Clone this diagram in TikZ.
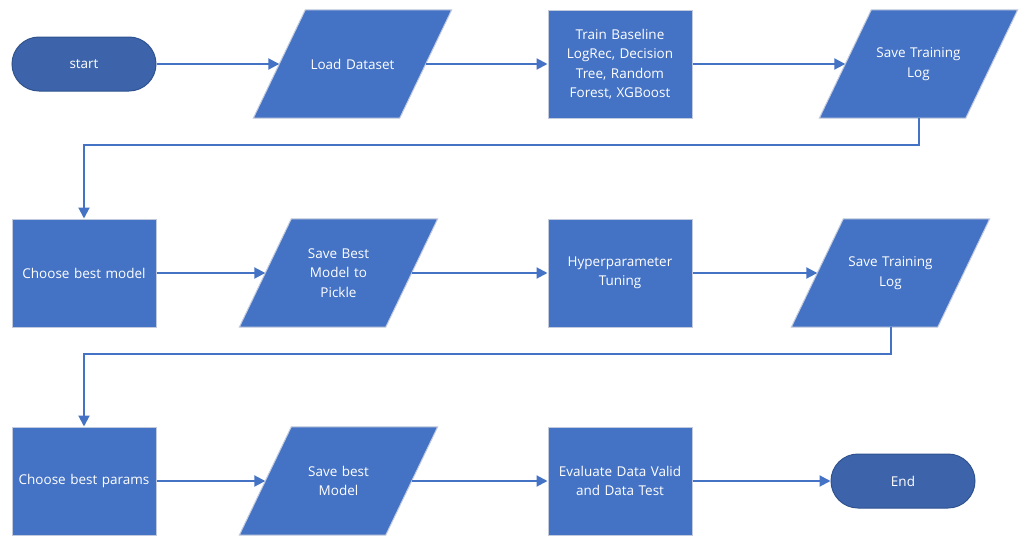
\documentclass[tikz,border=0pt]{standalone}
\usepackage{fontspec}
\setmainfont{Open Sans}
\usetikzlibrary{arrows.meta,backgrounds}
\definecolor{boxblue}{HTML}{4472C4}
\definecolor{termblue}{HTML}{3D64AB}
\definecolor{termedge}{HTML}{2F528F}
\definecolor{boxedge}{HTML}{C2CBDD}
\tikzset{
  basebox/.style={text=white, align=center,
    font=\fontsize{13.5}{19.5}\selectfont, inner sep=2pt},
  procbox/.style={basebox, rectangle, fill=boxblue, draw=boxedge, line width=1pt,
    minimum width=144pt, minimum height=108pt, text width=140pt},
  iobox/.style={basebox, rectangle, minimum width=146pt, minimum height=108pt, text width=140pt},
  ioshape/.style={fill=boxblue, draw=boxedge, line width=1pt, line join=miter},
  termbox/.style={rectangle, rounded corners=27pt, fill=termblue, draw=termedge, line width=1pt,
    text=white, minimum width=144pt, minimum height=54pt, font=\fontsize{13.5}{19.5}\selectfont},
  flow/.style={draw=boxblue, line width=2pt, -{Triangle[length=11pt,width=11pt]}}
}
\newcommand{\slantpath}[1]{%
  \begin{pgfonlayer}{background}
  \draw[ioshape] ([xshift=26pt]#1.north west) -- ([xshift=26pt]#1.north east)
     -- ([xshift=-26pt]#1.south east) -- ([xshift=-26pt]#1.south west) -- cycle;
  \end{pgfonlayer}}
\begin{document}
\begin{tikzpicture}[x=1pt,y=-1pt]
\useasboundingbox (0,0) rectangle (1028,546);
% row 1
\node[termbox] (start) at (84,64) {start};
\node[iobox] (load) at (352.5,64) {Load Dataset};
\node[procbox] (train) at (620,64) {Train Baseline\\LogRec, Decision\\Tree, Random\\Forest, XGBoost};
\node[iobox] (log1) at (918.5,64) {Save Training\\Log};
% row 2
\node[procbox] (choose) at (84,273) {Choose best model};
\node[iobox] (pickle) at (338.5,273) {Save Best\\Model to\\Pickle};
\node[procbox] (hyper) at (620,273) {Hyperparameter\\Tuning};
\node[iobox] (log2) at (890.5,273) {Save Training\\Log};
% row 3
\node[procbox] (params) at (84,481) {Choose best params};
\node[iobox] (savebest) at (338.5,481) {Save best\\Model};
\node[procbox] (eval) at (620,481) {Evaluate Data Valid\\and Data Test};
\node[termbox] (end) at (903,481) {End};
% parallelogram outlines
\slantpath{load}
\slantpath{log1}
\slantpath{pickle}
\slantpath{log2}
\slantpath{savebest}
% connectors
\draw[flow] (start) -- (load);
\draw[flow] (load) -- (train);
\draw[flow] (train) -- (log1);
\draw[flow] (log1.south) -- ++(0,27) -| (choose.north);
\draw[flow] (choose) -- (pickle);
\draw[flow] (pickle) -- (hyper);
\draw[flow] (hyper) -- (log2);
\draw[flow] (log2.south) -- ++(0,27) -| (params.north);
\draw[flow] (params) -- (savebest);
\draw[flow] (savebest) -- (eval);
\draw[flow] (eval) -- (end);
\end{tikzpicture}
\end{document}
